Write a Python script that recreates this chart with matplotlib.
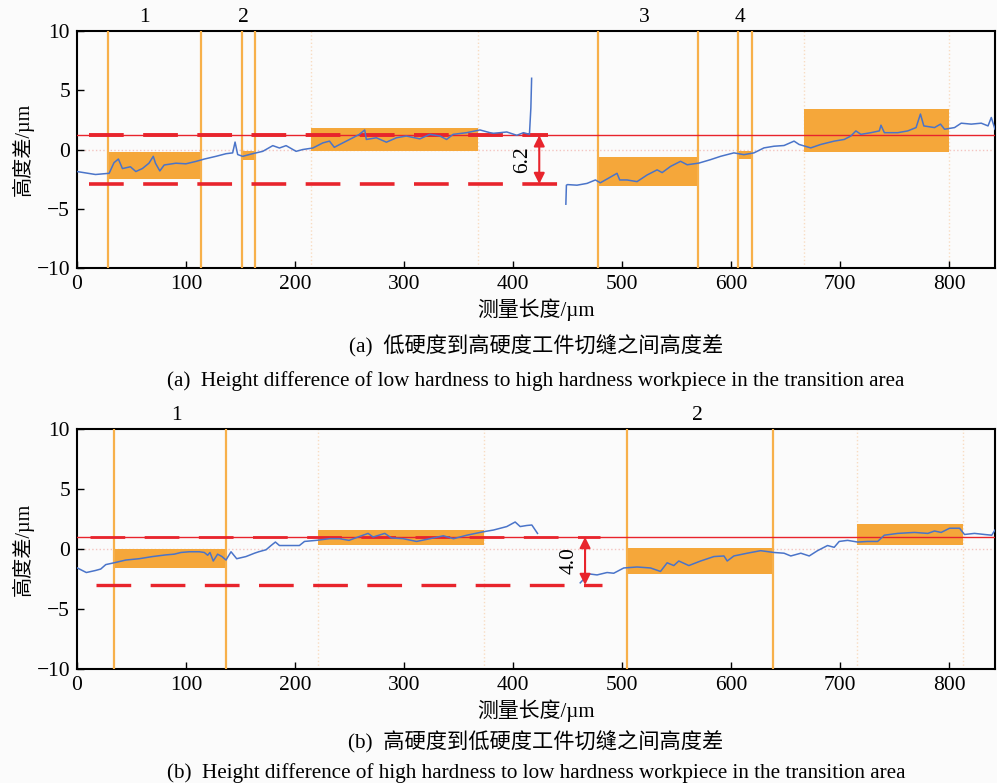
import matplotlib
matplotlib.use('Agg')
import matplotlib.pyplot as plt
from matplotlib.patches import Rectangle

plt.rcParams['font.family'] = ['Liberation Serif', 'Noto Sans CJK SC', 'DejaVu Sans']
plt.rcParams['axes.unicode_minus'] = True

#########################################
# panel (a): low -> high hardness
#########################################
a_x1 = [0, 17, 29.5, 34, 38, 41.7, 49, 54, 60, 66, 70, 72, 76, 80, 90.7, 99.9, 109, 116.8,
        127.5, 136.7, 142.8, 145, 147.4, 152, 161, 170.4, 179.6, 185.7, 191.8, 201, 207,
        216.3, 225.5, 231.6, 236, 243.8, 253, 259, 263.9, 265.4, 274.6, 283.8, 293, 302,
        314.5, 323.7, 332.9, 339, 345, 357.4, 369.6, 378.8, 382, 388, 394.2, 403.4, 409.5,
        415, 416.3, 417]
a_y1 = [-1.85, -2.1, -2.0, -1.1, -0.8, -1.6, -1.45, -1.85, -1.6, -1.15, -0.57, -1.15, -1.8,
        -1.3, -1.15, -1.2, -1.0, -0.8, -0.57, -0.35, -0.28, 0.63, -0.42, -0.57, -0.35, -0.15,
        0.33, 0.13, 0.33, -0.15, 0.0, 0.13, 0.56, 0.71, 0.19, 0.56, 0.99, 1.28, 1.65, 0.85,
        0.99, 0.62, 0.99, 1.14, 0.9, 1.28, 1.14, 0.85, 1.28, 1.42, 1.65, 1.42, 1.37, 1.42,
        1.48, 1.2, 1.42, 1.28, 3.5, 6.0]
a_x2 = [448.4, 448.9, 450, 458.6, 467.8, 475.5, 480, 487.7, 495.3, 497.8, 504.5, 513.7,
        522.9, 532.1, 536.7, 544.4, 553.6, 559.7, 570.4, 581.1, 590.3, 602.5, 611.7, 620.9,
        630.1, 639.3, 648.5, 657.7, 662.3, 673, 682.2, 694.5, 703.7, 709.8, 714.4, 719,
        728.2, 735.9, 737.4, 740.5, 752.8, 762, 769.6, 773.6, 776.7, 786.5, 792, 795.7,
        804.9, 811, 820.2, 829.4, 835.6, 838.6, 842]
a_y2 = [-4.6, -3.0, -2.95, -3.0, -2.85, -2.56, -2.8, -2.4, -2.0, -2.56, -2.56, -2.7, -2.14,
        -1.71, -1.94, -1.42, -0.99, -1.28, -1.14, -0.85, -0.57, -0.28, -0.43, -0.28, 0.14,
        0.28, 0.34, 0.71, 0.43, 0.14, 0.43, 0.71, 0.85, 1.14, 1.57, 1.28, 1.42, 1.57, 2.05,
        1.42, 1.42, 1.57, 1.85, 2.99, 1.99, 1.85, 2.14, 1.71, 1.85, 2.22, 2.14, 2.22, 1.99,
        2.7, 1.71]
# (x0, x1, y0, y1) of each shaded zone
a_boxes = [(28.5, 114, -2.5, -0.2), (151, 163, -0.85, -0.1), (215, 368, -0.15, 1.85),
           (478, 570, -3.05, -0.62), (606, 619, -0.8, -0.15), (667, 800, -0.2, 3.45)]
a_edges = [28.5, 114, 151, 163, 478, 570, 606, 619]
a_faint = [215, 368, 667, 800]
a_zone_x = [62, 153, 520, 608]
a_zone_lbl = ['1', '2', '3', '4']
a_upper, a_lower = 1.2, -2.9
a_upper_span = (11, 432)
a_lower_span = (11, 450)
a_arrow_x = 424
a_gap_lbl = '6.2'

#########################################
# panel (b): high -> low hardness
#########################################
b_x1 = [0.3, 8.6, 17, 21.8, 26.4, 34, 44.8, 57, 69.3, 81.6, 89.2, 95.4, 103, 112.2, 116.8,
        119.9, 122, 125, 129, 133, 136.7, 141.3, 146.5, 155, 162.8, 166.7, 173.5, 178, 182,
        185.7, 194.9, 204, 208.7, 219.5, 231.7, 240.9, 249.5, 257.8, 267, 271.6, 282.3,
        288.5, 299.2, 311.5, 323.8, 336, 345.3, 357.6, 372.9, 382, 394.2, 401.9, 406.5,
        412.6, 417.2, 422.4]
b_y1 = [-1.58, -1.96, -1.79, -1.67, -1.3, -1.15, -0.92, -0.81, -0.63, -0.49, -0.43, -0.29,
        -0.23, -0.23, -0.29, -0.52, -0.29, -1.0, -0.43, -0.63, -0.92, -0.23, -0.81, -0.63,
        -0.35, -0.23, -0.06, 0.29, 0.58, 0.29, 0.29, 0.29, 0.63, 0.72, 0.86, 0.86, 0.72,
        1.0, 1.3, 1.0, 1.3, 0.92, 0.86, 0.63, 0.86, 1.1, 0.86, 1.15, 1.44, 1.58, 1.87, 2.25,
        1.87, 1.96, 2.0, 1.3]
b_x2 = [461.6, 469.3, 477, 486.2, 492.3, 501.5, 513.7, 526, 535.2, 541.3, 547.4, 552, 561.2,
        572, 584.2, 593.4, 596.4, 602.5, 614.8, 627, 639.3, 648.5, 654.7, 663.9, 671.6,
        679.2, 688.4, 694.5, 699.1, 706.8, 716, 725.2, 734.4, 740.5, 752.8, 768.1, 780.4,
        786.5, 792.6, 800.3, 809.5, 814, 823.2, 832.4, 839, 842]
b_y2 = [-2.82, -2.07, -2.16, -1.96, -2.02, -1.58, -1.5, -1.58, -1.87, -1.15, -1.38, -1.0,
        -1.38, -1.0, -0.63, -0.58, -1.0, -0.58, -0.35, -0.14, -0.29, -0.35, -0.58, -0.35,
        -0.58, -0.14, 0.29, 0.14, 0.63, 0.72, 0.58, 0.63, 0.63, 1.15, 1.3, 1.38, 1.3, 1.5,
        1.38, 1.73, 1.73, 1.21, 1.3, 1.21, 1.15, 1.58]
b_boxes = [(34, 137, -1.6, 0.0), (221, 373, 0.3, 1.55), (504.5, 638, -2.1, 0.1),
           (715, 813, 0.3, 2.05)]
b_edges = [34, 137, 504.5, 638]
b_faint = [221, 373, 715, 813]
b_zone_x = [91, 569]
b_zone_lbl = ['1', '2']
b_upper, b_lower = 1.0, -3.0
b_upper_span = (12, 480)
b_lower_span = (17, 482)
b_arrow_x = 466
b_gap_lbl = '4.0'

XMAX = 842
BLUE = '#4a74c9'
RED = '#e8242c'
ORANGE = '#f5a73a'
BG = '#fbfbfb'
CJK = ['Liberation Serif', 'Noto Sans CJK SC']


def draw_panel(ax, segs, boxes, edges, faint, zone_x, zone_lbl,
               upper, lower, up_span, lo_span, arrow_x, gap_lbl, up_lw, lo_lw):
    ax.set_facecolor(BG)
    ax.axhline(0, color='#f3c4c0', lw=1, ls=':', zorder=1)
    for x0, x1, y0, y1 in boxes:
        ax.add_patch(Rectangle((x0, y0), x1 - x0, y1 - y0, color=ORANGE, lw=0, zorder=2))
    for x in edges:
        ax.axvline(x, color='#f7b04a', lw=1.6, zorder=3)
    for x in faint:
        ax.axvline(x, color='#f8dcc2', lw=1, ls=':', zorder=1)
    # reference levels: thin solid line plus the dashed marks
    ax.axhline(upper, color=RED, lw=1, zorder=4)
    ax.plot(up_span, [upper, upper], color=RED, lw=up_lw, dashes=(25 / up_lw, 14 / up_lw),
            zorder=4)
    ax.plot(lo_span, [lower, lower], color=RED, lw=lo_lw, dashes=(25 / lo_lw, 14 / lo_lw),
            zorder=4)
    for xs, ys in segs:
        ax.plot(xs, ys, color=BLUE, lw=1.1, zorder=5)
    ax.annotate('', xy=(arrow_x, lower), xytext=(arrow_x, upper),
                arrowprops=dict(arrowstyle='<|-|>', color=RED, lw=1.5,
                                mutation_scale=16, shrinkA=0, shrinkB=0), zorder=6)
    ax.text(arrow_x - 15, (upper + lower) / 2, gap_lbl, rotation=90,
            ha='center', va='center', fontsize=15.5, zorder=6)
    for x, s in zip(zone_x, zone_lbl):
        ax.text(x, 10.3, s, ha='center', va='bottom', fontsize=15.5)
    ax.set_xlim(0, XMAX)
    ax.set_ylim(-10, 10)
    ax.set_xticks(range(0, 801, 100))
    ax.set_yticks([-10, -5, 0, 5, 10])
    ax.tick_params(direction='in', length=5, width=1, labelsize=15.5, pad=5)
    for sp in ax.spines.values():
        sp.set_linewidth(1.5)
    ax.set_ylabel('高度差/µm', family=CJK, fontsize=14.5, labelpad=2)
    ax.set_xlabel('测量长度/µm', family=CJK, fontsize=15, labelpad=3)


fig = plt.figure(figsize=(9.97, 7.83), dpi=100, facecolor=BG)
ax1 = fig.add_axes([0.0772, 0.6573, 0.9208, 0.3034])
ax2 = fig.add_axes([0.0772, 0.1456, 0.9208, 0.3065])

draw_panel(ax1, [(a_x1, a_y1), (a_x2, a_y2)], a_boxes, a_edges, a_faint, a_zone_x,
           a_zone_lbl, a_upper, a_lower, a_upper_span, a_lower_span, a_arrow_x, a_gap_lbl,
           2.8, 2.6)
draw_panel(ax2, [(b_x1, b_y1), (b_x2, b_y2)], b_boxes, b_edges, b_faint, b_zone_x,
           b_zone_lbl, b_upper, b_lower, b_upper_span, b_lower_span, b_arrow_x, b_gap_lbl,
           2.0, 2.4)

cx = 0.0772 + 0.9208 / 2
fig.text(cx, 1 - 346 / 783, '(a)  低硬度到高硬度工件切缝之间高度差', family=CJK,
         fontsize=15.3, ha='center', va='center')
fig.text(cx, 1 - 381 / 783, '(a)  Height difference of low hardness to high hardness '
         'workpiece in the transition area', fontsize=15.2, ha='center', va='center')
fig.text(cx, 1 - 742 / 783, '(b)  高硬度到低硬度工件切缝之间高度差', family=CJK,
         fontsize=15.3, ha='center', va='center')
fig.text(cx, 1 - 773 / 783, '(b)  Height difference of high hardness to low hardness '
         'workpiece in the transition area', fontsize=15.2, ha='center', va='center')

fig.savefig('out.png', dpi=100, facecolor=BG)
